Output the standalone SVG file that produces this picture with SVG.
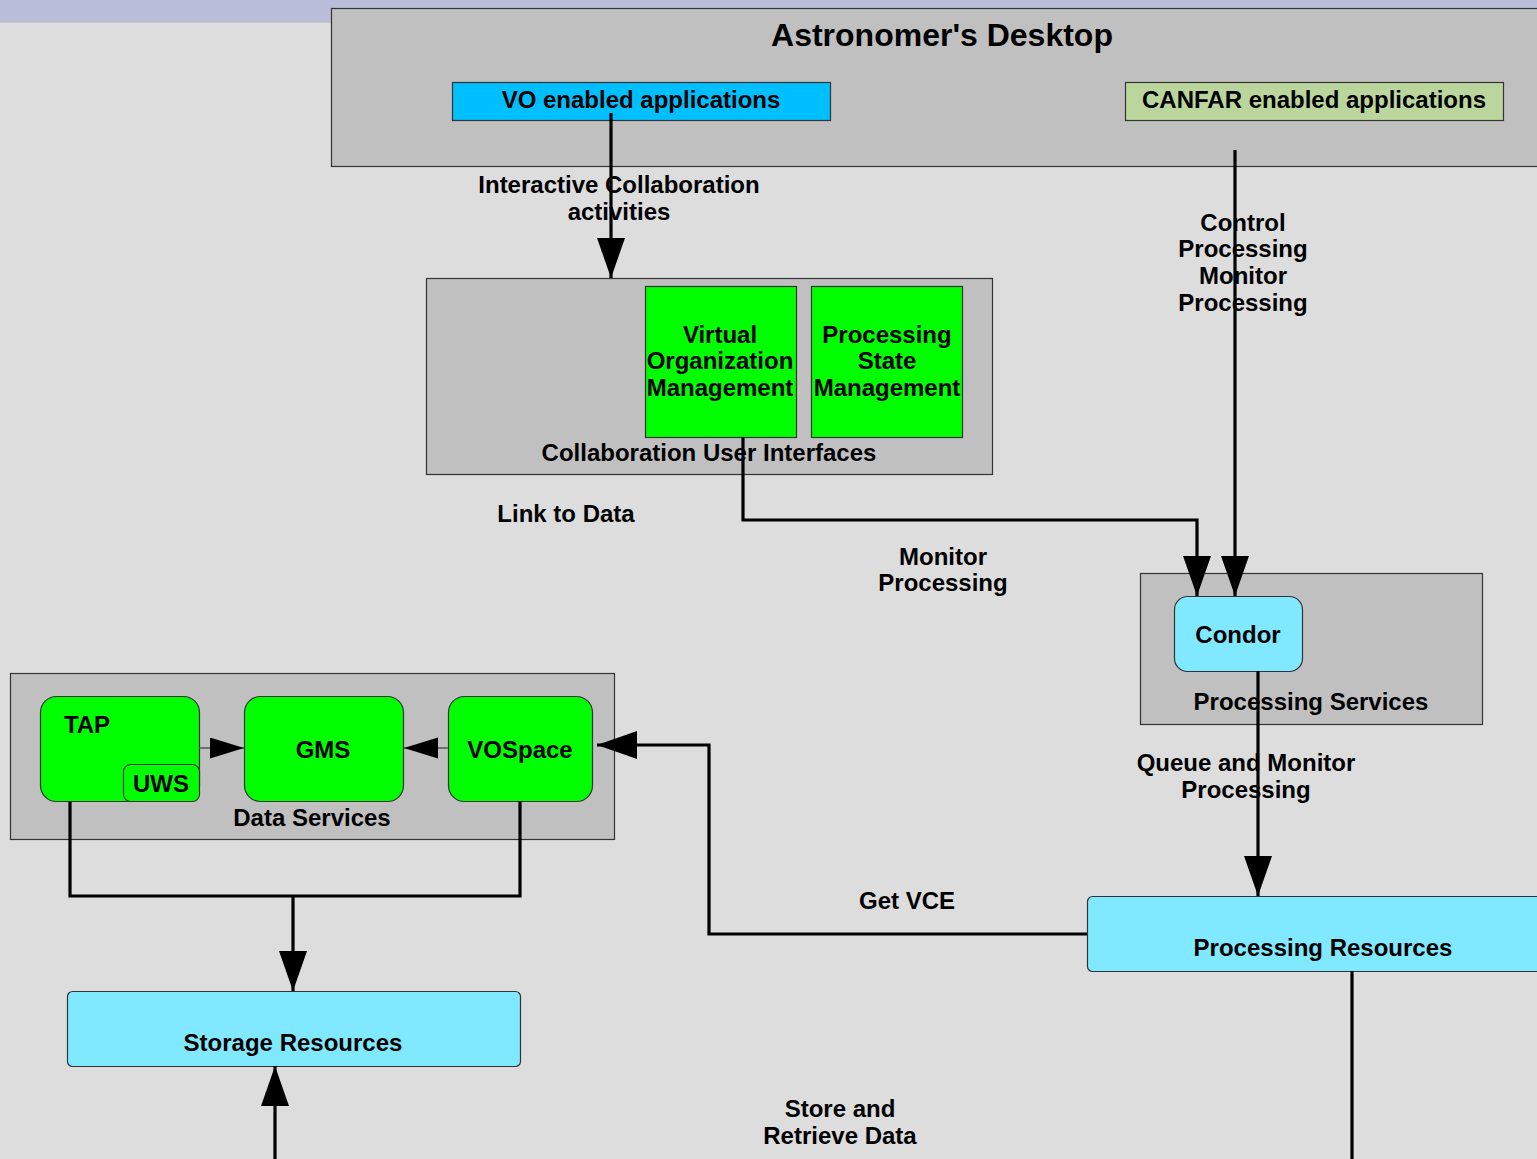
<svg xmlns="http://www.w3.org/2000/svg" width="1537" height="1159" viewBox="0 0 1537 1159">
<style>
text{font-family:"Liberation Sans",Arial,sans-serif;font-weight:bold;font-size:24px;fill:#000;text-anchor:middle}
.grp{fill:#c0c0c0;stroke:#333;stroke-width:1.2}
.green{fill:#00ff00;stroke:#333;stroke-width:1.2}
.cyan{fill:#80e9ff;stroke:#333;stroke-width:1.2}
.conn{fill:none;stroke:#000;stroke-width:3.2}
.thin{fill:none;stroke:#555;stroke-width:1.5}
</style>
<defs>
<marker id="big" markerUnits="userSpaceOnUse" markerWidth="42" markerHeight="30" refX="40" refY="14" orient="auto">
<path d="M0,0 L40,14 L0,28 z" fill="#000"/>
</marker>
<marker id="small" markerUnits="userSpaceOnUse" markerWidth="36" markerHeight="22" refX="34" refY="10.5" orient="auto">
<path d="M0,0 L34,10.5 L0,21 z" fill="#000"/>
</marker>
</defs>
<rect x="0" y="0" width="1537" height="1159" fill="#dddddd"/>
<rect x="0" y="0" width="1537" height="22" fill="#babdd9"/>
<line x1="0" y1="22.5" x2="1537" y2="22.5" stroke="#c8c8c8" stroke-width="1"/>

<g id="desktop">
<rect class="grp" x="331.5" y="8.5" width="1220" height="158"/>
<text x="942" y="46" style="font-size:32px">Astronomer's Desktop</text>
</g>
<g id="vo-apps">
<rect x="452.5" y="82.5" width="378" height="38" fill="#00bfff" stroke="#333" stroke-width="1.2"/>
<text x="641" y="108">VO enabled applications</text>
</g>
<g id="canfar-apps">
<rect x="1125.5" y="82.5" width="378" height="38" fill="#bbd69d" stroke="#333" stroke-width="1.2"/>
<text x="1314" y="108">CANFAR enabled applications</text>
</g>

<g id="collab">
<rect class="grp" x="426.5" y="278.5" width="566" height="196"/>
<text x="709" y="460.5">Collaboration User Interfaces</text>
</g>
<g id="vom">
<rect class="green" x="645.5" y="286.5" width="151" height="151"/>
<text x="720" y="343">Virtual</text>
<text x="720" y="369">Organization</text>
<text x="720" y="396">Management</text>
</g>
<g id="psm">
<rect class="green" x="811.5" y="286.5" width="151" height="151"/>
<text x="887" y="343">Processing</text>
<text x="887" y="369">State</text>
<text x="887" y="396">Management</text>
</g>

<g id="proc-services">
<rect class="grp" x="1140.5" y="573.5" width="342" height="151"/>
<text x="1311" y="709.5">Processing Services</text>
</g>
<g id="condor">
<rect class="cyan" x="1174.5" y="596.5" width="128" height="75" rx="13"/>
<text x="1238" y="642.5">Condor</text>
</g>

<g id="proc-resources">
<rect class="cyan" x="1087.5" y="896.5" width="470" height="75" rx="5"/>
<text x="1323" y="955.5">Processing Resources</text>
</g>

<g id="data-services">
<rect class="grp" x="10.5" y="673.5" width="604" height="166"/>
<text x="312" y="825.5">Data Services</text>
</g>
<g id="tap">
<rect class="green" x="40.5" y="696.5" width="159" height="105" rx="16"/>
<text x="87" y="732.5">TAP</text>
</g>
<g id="uws">
<rect class="green" x="123.5" y="764.5" width="76" height="37" rx="7"/>
<text x="161" y="791.5">UWS</text>
</g>
<g id="gms">
<rect class="green" x="244.5" y="696.5" width="159" height="105" rx="16"/>
<text x="323" y="757.5">GMS</text>
</g>
<g id="vospace">
<rect class="green" x="448.5" y="696.5" width="144" height="105" rx="16"/>
<text x="520" y="757.5">VOSpace</text>
</g>

<g id="storage">
<rect class="cyan" x="67.5" y="991.5" width="453" height="75" rx="5"/>
<text x="293" y="1050.5">Storage Resources</text>
</g>

<g id="connectors">
<path class="conn" d="M611,113 V278" marker-end="url(#big)"/>
<path class="conn" d="M1235,150 V596" marker-end="url(#big)"/>
<path class="conn" d="M743,437 V520 H1197 V596" marker-end="url(#big)"/>
<path class="conn" d="M1258,671 V896" marker-end="url(#big)"/>
<path class="conn" d="M1087,934 H709 V745 H597" marker-end="url(#big)"/>
<path class="conn" d="M70,801 V896 H520 V801"/>
<path class="conn" d="M293,896 V991" marker-end="url(#big)"/>
<path class="conn" d="M275,1159 V1066" marker-end="url(#big)"/>
<path class="conn" d="M1352,971 V1159"/>
<path class="thin" d="M199,748 H244" marker-end="url(#small)"/>
<path class="thin" d="M448,748 H404" marker-end="url(#small)"/>
</g>

<g id="labels">
<text x="619" y="192.5">Interactive Collaboration</text>
<text x="619" y="219.5">activities</text>
<text x="1243" y="230.5">Control</text>
<text x="1243" y="256.5">Processing</text>
<text x="1243" y="283.5">Monitor</text>
<text x="1243" y="310.5">Processing</text>
<text x="566" y="521.5">Link to Data</text>
<text x="943" y="564.5">Monitor</text>
<text x="943" y="590.5">Processing</text>
<text x="1246" y="770.5">Queue and Monitor</text>
<text x="1246" y="797.5">Processing</text>
<text x="907" y="908.5">Get VCE</text>
<text x="840" y="1116.5">Store and</text>
<text x="840" y="1143.5">Retrieve Data</text>
</g>
</svg>
